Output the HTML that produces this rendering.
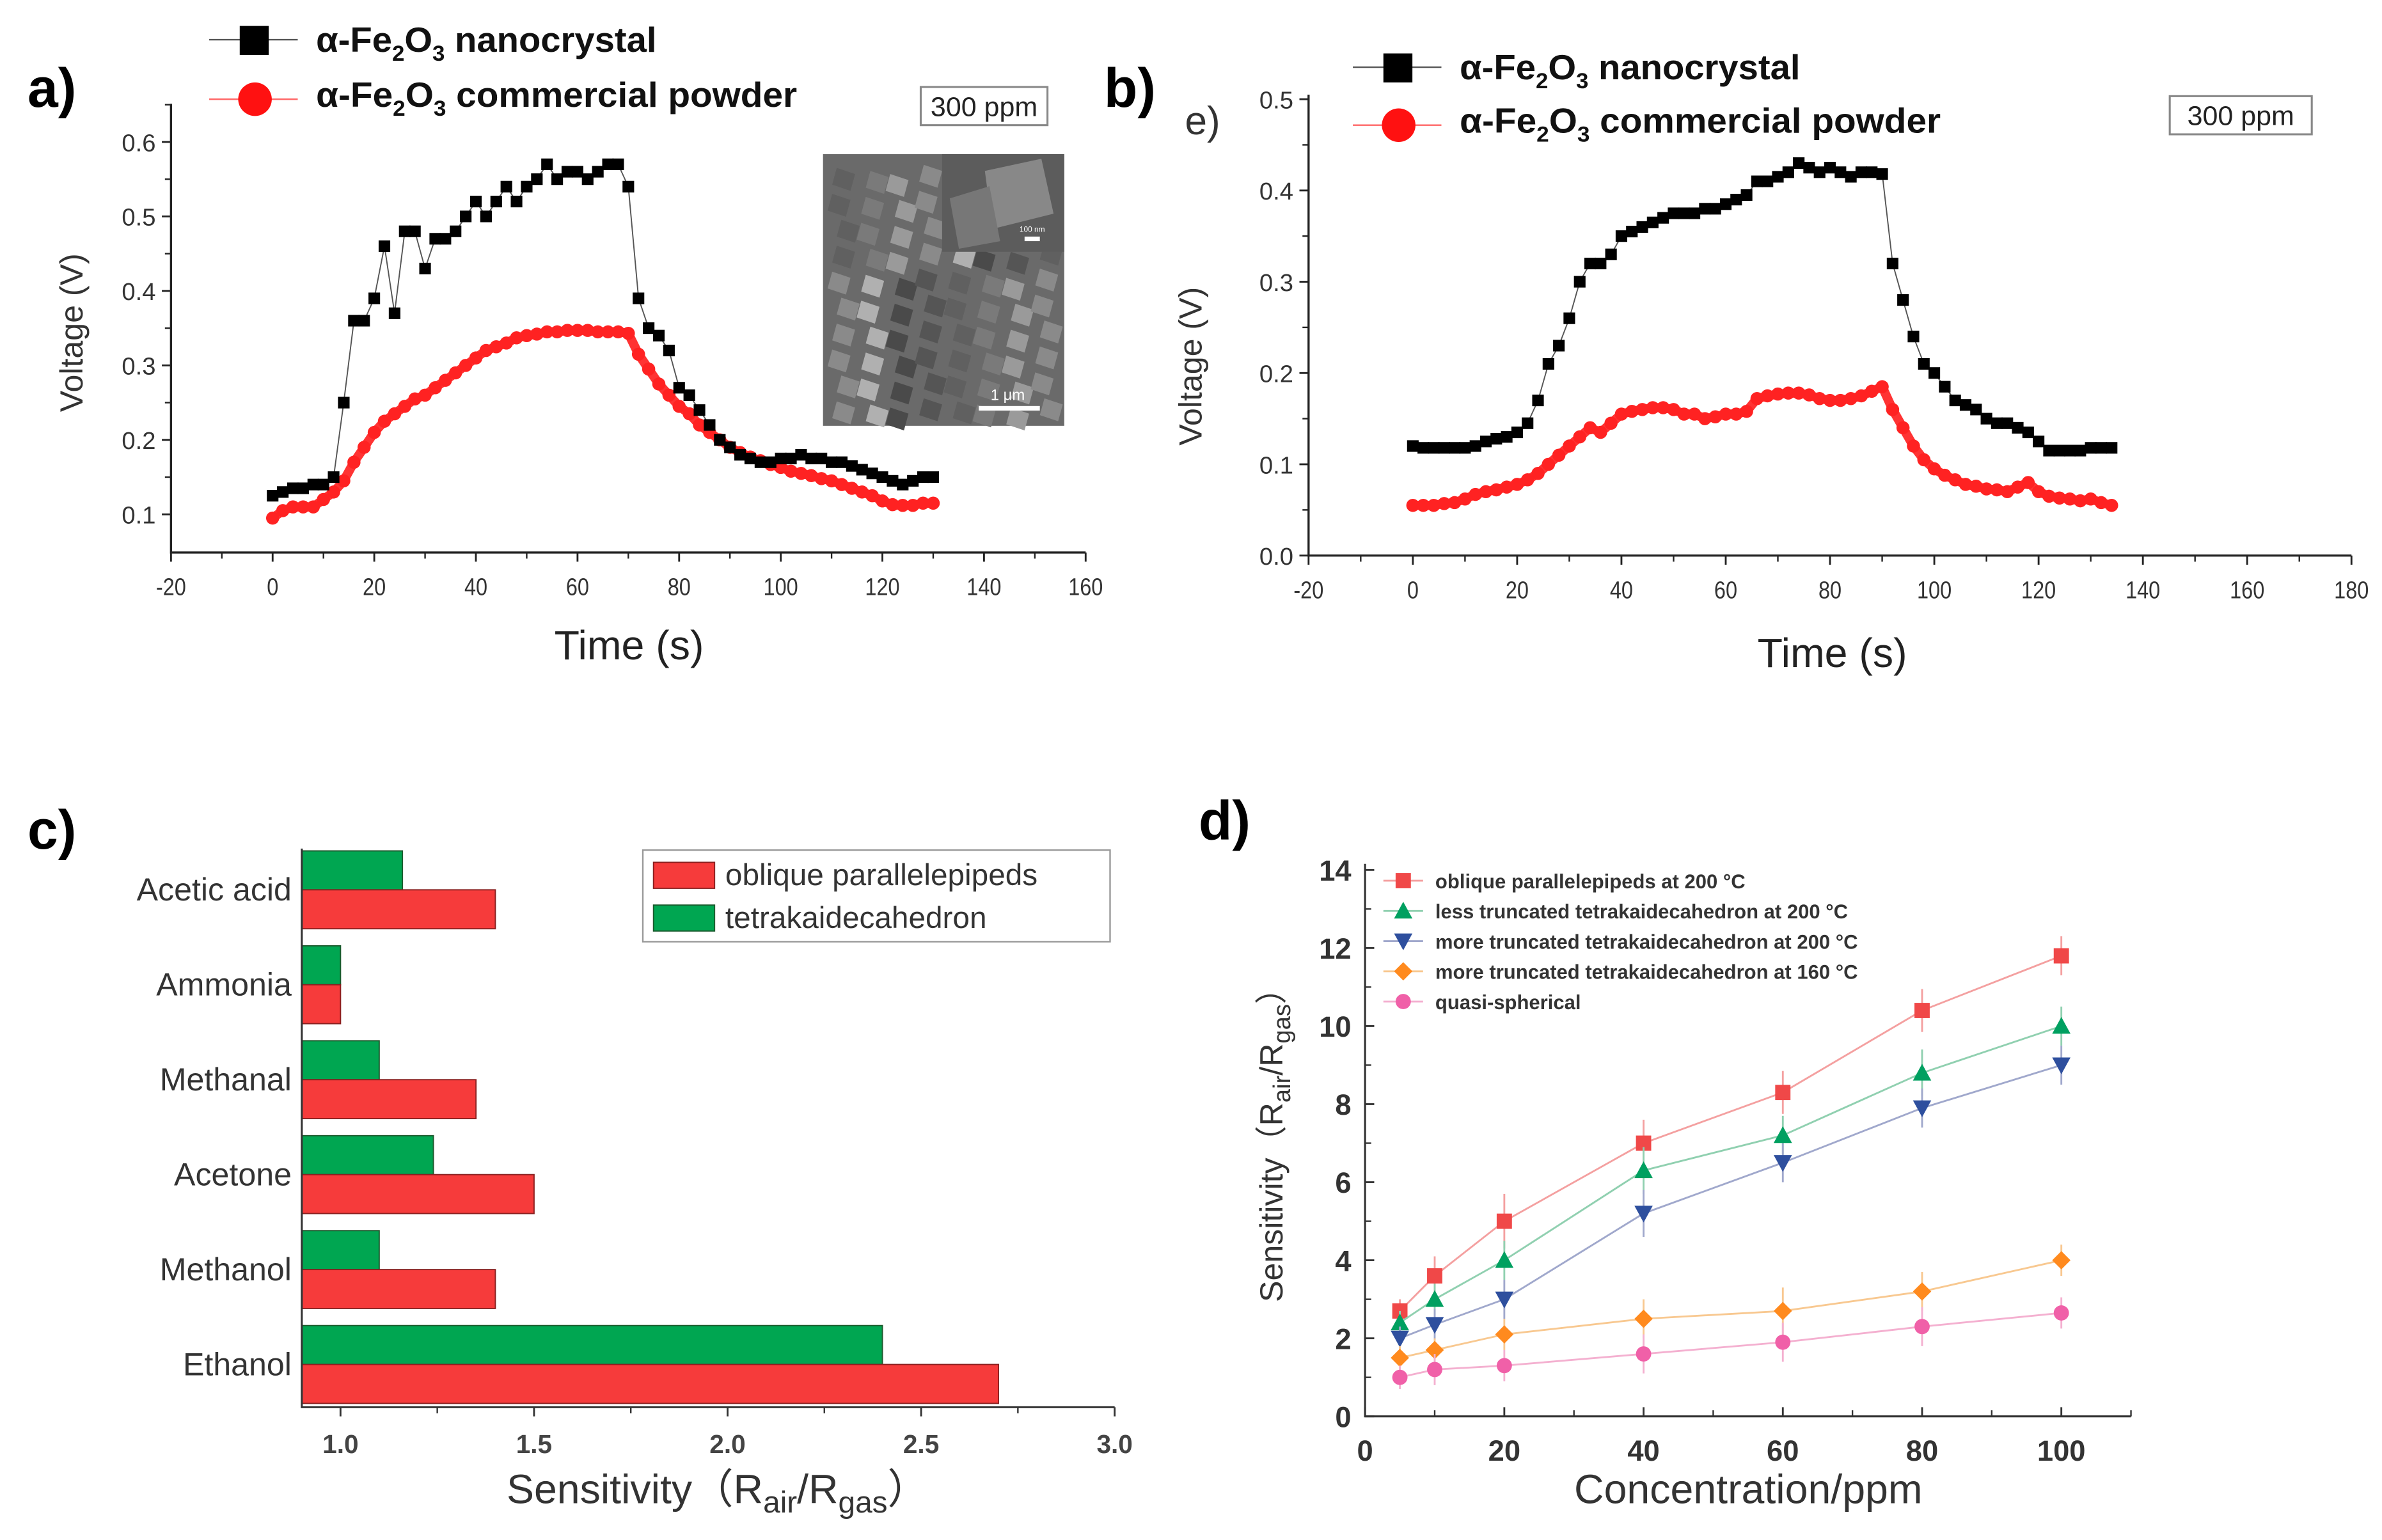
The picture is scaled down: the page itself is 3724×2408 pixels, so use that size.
<!DOCTYPE html>
<html><head><meta charset="utf-8"><style>
html,body{margin:0;padding:0;background:#fff}
svg{display:block}
text{font-family:"Liberation Sans",sans-serif}
</style></head><body>
<svg id="fig" xmlns="http://www.w3.org/2000/svg" width="3724" height="2408" viewBox="0 0 1560 1009" preserveAspectRatio="none">
<rect x="0" y="0" width="1560" height="1009" fill="#fff"/>
<g id="pa"></g>
<g id="pb"></g>
<g id="pc"></g>
<g id="pd"></g>
</svg>
<script>
// ---------- Panel a data ----------
const aTimeBlack = [0,2,4,6,8,10,12,14,16,18,20,22,24,26,28,30,32,34,36,38,40,42,44,46,48,50,52,54,56,58,60,62,64,66,68,70,72,74,76,78,80,82,84,86,88,90,92,94,96,98,100,102,104,106,108,110,112,114,116,118,120,122,124,126,128,130];
const aBlack = [0.125,0.13,0.135,0.135,0.14,0.14,0.15,0.25,0.36,0.36,0.39,0.46,0.37,0.48,0.48,0.43,0.47,0.47,0.48,0.5,0.52,0.5,0.52,0.54,0.52,0.54,0.55,0.57,0.55,0.56,0.56,0.55,0.56,0.57,0.57,0.54,0.39,0.35,0.34,0.32,0.27,0.26,0.24,0.22,0.2,0.19,0.18,0.175,0.17,0.17,0.175,0.175,0.18,0.175,0.175,0.17,0.17,0.165,0.16,0.155,0.15,0.145,0.14,0.145,0.15,0.15];
const aTimeRed = aTimeBlack;
const aRed = [0.095,0.105,0.11,0.11,0.11,0.12,0.13,0.145,0.17,0.19,0.21,0.225,0.235,0.245,0.255,0.26,0.27,0.28,0.29,0.3,0.31,0.32,0.325,0.33,0.337,0.34,0.342,0.345,0.345,0.347,0.347,0.347,0.345,0.345,0.345,0.343,0.315,0.295,0.275,0.26,0.245,0.235,0.22,0.21,0.2,0.19,0.183,0.177,0.172,0.167,0.163,0.158,0.155,0.152,0.148,0.145,0.14,0.135,0.13,0.125,0.118,0.113,0.112,0.112,0.115,0.115];
const aXTicks = [-20,0,20,40,60,80,100,120,140,160];
const aYTicks = [0.1,0.2,0.3,0.4,0.5,0.6];
// ---------- Panel b data ----------
const bTime = [0,2,4,6,8,10,12,14,16,18,20,22,24,26,28,30,32,34,36,38,40,42,44,46,48,50,52,54,56,58,60,62,64,66,68,70,72,74,76,78,80,82,84,86,88,90,92,94,96,98,100,102,104,106,108,110,112,114,116,118,120,122,124,126,128,130,132,134];
const bBlack = [0.12,0.118,0.118,0.118,0.118,0.118,0.12,0.125,0.128,0.13,0.135,0.145,0.17,0.21,0.23,0.26,0.3,0.32,0.32,0.33,0.35,0.355,0.36,0.365,0.37,0.375,0.375,0.375,0.38,0.38,0.385,0.39,0.395,0.41,0.41,0.415,0.42,0.43,0.425,0.42,0.425,0.42,0.415,0.42,0.42,0.418,0.32,0.28,0.24,0.21,0.2,0.185,0.17,0.165,0.16,0.15,0.145,0.145,0.14,0.135,0.125,0.115,0.115,0.115,0.115,0.118,0.118,0.118];
const bRed = [0.055,0.055,0.055,0.057,0.058,0.062,0.067,0.07,0.072,0.075,0.078,0.083,0.09,0.1,0.11,0.12,0.13,0.14,0.135,0.145,0.155,0.158,0.16,0.162,0.162,0.16,0.155,0.155,0.15,0.152,0.155,0.155,0.158,0.172,0.175,0.177,0.178,0.178,0.176,0.172,0.17,0.17,0.172,0.175,0.18,0.185,0.16,0.14,0.12,0.105,0.095,0.088,0.083,0.078,0.076,0.073,0.072,0.07,0.075,0.08,0.07,0.065,0.063,0.062,0.06,0.062,0.058,0.055];
const bXTicks = [-20,0,20,40,60,80,100,120,140,160,180];
const bYTicks = [0.0,0.1,0.2,0.3,0.4,0.5];
// ---------- Panel c data ----------
const cCategories = ["Acetic acid","Ammonia","Methanal","Acetone","Methanol","Ethanol"];
const cOblique = [1.4,1.0,1.35,1.5,1.4,2.7];
const cTetra = [1.16,1.0,1.1,1.24,1.1,2.4];
const cXTicks = [1.0,1.5,2.0,2.5,3.0];
// ---------- Panel d data ----------
const dConc = [5,10,20,40,60,80,100];
const dOblique200 = [2.7,3.6,5.0,7.0,8.3,10.4,11.8];
const dLessTrunc200 = [2.4,3.0,4.0,6.3,7.2,8.8,10.0];
const dMoreTrunc200 = [2.0,2.35,3.0,5.2,6.5,7.9,9.0];
const dMoreTrunc160 = [1.5,1.7,2.1,2.5,2.7,3.2,4.0];
const dQuasi = [1.0,1.2,1.3,1.6,1.9,2.3,2.65];
const dErrOblique = [0.3,0.5,0.7,0.6,0.55,0.55,0.5];
const dErrLess = [0.3,0.4,0.5,0.6,0.5,0.6,0.5];
const dErrMore200 = [0.3,0.4,0.5,0.6,0.5,0.5,0.5];
const dErrMore160 = [0.3,0.3,0.4,0.5,0.6,0.5,0.4];
const dErrQuasi = [0.3,0.4,0.4,0.5,0.5,0.5,0.4];
const dXTicks = [0,20,40,60,80,100];
const dYTicks = [0,2,4,6,8,10,12,14];

const NS="http://www.w3.org/2000/svg";
function mk(parent,tag,attrs,txt){const e=document.createElementNS(NS,tag);for(const k in attrs)e.setAttribute(k,attrs[k]);if(txt!==undefined)e.textContent=txt;parent.appendChild(e);return e;}
function fmt(v,d){return v.toFixed(d);}

function linearScale(d0,d1,r0,r1){return v=>r0+(v-d0)*(r1-r0)/(d1-d0);}

function formula(parent,x,y,size,rest,len,name){
  const t=mk(parent,'text',{x:x,y:y,'font-size':size,'font-weight':'bold',fill:'#111',textLength:len,lengthAdjust:'spacingAndGlyphs'});
  
  
  mk(t,'tspan',{},'α-Fe');
  mk(t,'tspan',{'font-size':size*0.62,dy:size*0.25},'2');
  mk(t,'tspan',{dy:-size*0.25},'O');
  mk(t,'tspan',{'font-size':size*0.62,dy:size*0.25},'3');
  mk(t,'tspan',{dy:-size*0.25},' '+rest);
  return t;
}

function voltagePanel(g,o){
  const sx=linearScale(o.xd[0],o.xd[1],o.xr[0],o.xr[1]);
  const sy=linearScale(o.yd[0],o.yd[1],o.yr[0],o.yr[1]);
  // axes
  const ax=mk(g,'path',{d:`M${o.xr[0]} ${o.top} V${o.base} H${o.xr[1]}`,fill:'none',stroke:'#222','stroke-width':1.4});
  
  
  o.xt.forEach((v,i)=>{
    const x=sx(v);
    const tk=mk(g,'line',{x1:x,y1:o.base,x2:x,y2:o.base+6,stroke:'#222','stroke-width':1.2});
    
    
    if(i<o.xt.length-1){const xm=sx(v+10);mk(g,'line',{x1:xm,y1:o.base,x2:xm,y2:o.base+4,stroke:'#222','stroke-width':1});}
    const lb=mk(g,'text',{x:x,y:o.base+28,'font-size':16,'text-anchor':'middle',fill:'#333',transform:`translate(${x} 0) scale(0.85 1) translate(${-x} 0)`},String(v));
    
    
  });
  o.yt.forEach((v,i)=>{
    const y=sy(v);
    mk(g,'line',{x1:o.xr[0],y1:y,x2:o.xr[0]-6,y2:y,stroke:'#222','stroke-width':1.2});
    const ym=sy(v+0.05); if(ym>o.top) mk(g,'line',{x1:o.xr[0],y1:ym,x2:o.xr[0]-4,y2:ym,stroke:'#222','stroke-width':1});
    const lb=mk(g,'text',{x:o.xr[0]-10,y:y+6,'font-size':16,'text-anchor':'end',fill:'#333'},fmt(v,1));
    
    
  });
  const yt=mk(g,'text',{x:0,y:0,'font-size':21,'text-anchor':'middle',fill:'#333',transform:`translate(${o.ytx} ${o.yty}) rotate(-90)`},'Voltage (V)');
  
  
  const xt=mk(g,'text',{x:o.xtx,y:o.xty,'font-size':27,'text-anchor':'middle',fill:'#222'},'Time (s)');
  
  
  // black series
  const pb=o.tb.map((t,i)=>`${sx(t).toFixed(1)},${sy(o.vb[i]).toFixed(1)}`).join(' ');
  const lnb=mk(g,'polyline',{points:pb,fill:'none',stroke:'#555','stroke-width':0.8});
  
  
  const pr=o.tr.map((t,i)=>`${sx(t).toFixed(1)},${sy(o.vr[i]).toFixed(1)}`).join(' ');
  const lnr=mk(g,'polyline',{points:pr,fill:'none',stroke:'#f33','stroke-width':6,'stroke-linejoin':'round'});
  
  
  o.tr.forEach((t,i)=>{
    const c=mk(g,'circle',{cx:sx(t),cy:sy(o.vr[i]),r:4.3,fill:'#f22'});
    
    
  });
  o.tb.forEach((t,i)=>{
    const s=mk(g,'rect',{x:sx(t)-3.8,y:sy(o.vb[i])-3.8,width:7.6,height:7.6,fill:'#000'});
    
    
  });
  // legend
  const lg=mk(g,'g',{});
  
  
  mk(lg,'line',{x1:o.lx,y1:o.ly1,x2:o.lx+58,y2:o.ly1,stroke:'#555','stroke-width':1});
  mk(lg,'rect',{x:o.lx+20,y:o.ly1-9,width:19,height:19,fill:'#000'});
  mk(lg,'line',{x1:o.lx,y1:o.ly2,x2:o.lx+58,y2:o.ly2,stroke:'#f66','stroke-width':1});
  mk(lg,'circle',{cx:o.lx+30,cy:o.ly2,r:11,fill:'#f11'});
  formula(lg,o.lx+70,o.ly1+8,23,'nanocrystal',223,'legend-entry-nanocrystal');
  formula(lg,o.lx+70,o.ly2+5,23,'commercial powder',315,'legend-entry-commercial-powder');
  // 300 ppm box
  const bx=mk(g,'g',{});
  
  
  mk(bx,'rect',{x:o.bx,y:o.by,width:o.bw,height:25,fill:'#fff',stroke:'#888','stroke-width':1.3});
  mk(bx,'text',{x:o.bx+o.bw/2,y:o.by+19,'font-size':18,'text-anchor':'middle',fill:'#222'},'300 ppm');
}

// Panel a
const pa=document.getElementById('pa');
const la=mk(pa,'text',{x:18,y:70,'font-size':36,'font-weight':'bold',fill:'#000'},'a)');


voltagePanel(pa,{xd:[-20,160],xr:[112,711],yd:[0.1,0.6],yr:[337,93],top:68,base:362,xt:aXTicks,yt:aYTicks,
  ytx:54,yty:218,xtx:412,xty:432,tb:aTimeBlack,vb:aBlack,tr:aTimeRed,vr:aRed,lx:137,ly1:26,ly2:65,bx:603,by:57,bw:83});
// SEM inset
(function(){
  const g=mk(pa,'g',{});
  
  
  mk(g,'rect',{x:539,y:101,width:158,height:178,fill:'#6a6a6a'});
  const shades=['#8a8a8a','#555','#9a9a9a','#4a4a4a','#7a7a7a','#b0b0b0','#606060'];
  let k=0;
  for(let yy=108;yy<275;yy+=17){for(let xx=545;xx<692;xx+=19){
    const c=shades[(k*5+ (yy>>3))%shades.length];k++;
    const dx=(k%3)*3, dy=(k%4)*2;
    mk(g,'polygon',{points:`${xx+dx},${yy+dy} ${xx+dx+12},${yy+dy+4} ${xx+dx+9},${yy+dy+15} ${xx+dx-3},${yy+dy+11}`,fill:c});
  }}
  mk(g,'rect',{x:617,y:101,width:80,height:64,fill:'#5c5c5c'});
  mk(g,'polygon',{points:'645,112 682,104 690,140 650,150',fill:'#888'});
  mk(g,'polygon',{points:'622,130 648,122 655,158 628,163',fill:'#777'});
  mk(g,'text',{x:676,y:152,'font-size':5,'text-anchor':'middle',fill:'#fff'},'100 nm');
  mk(g,'rect',{x:671,y:155,width:10,height:3,fill:'#fff'});
  mk(g,'text',{x:660,y:262,'font-size':10,'text-anchor':'middle',fill:'#fff'},'1 μm');
  mk(g,'rect',{x:641,y:266,width:40,height:3,fill:'#fff'});
})();

// Panel b
const pbG=document.getElementById('pb');
const lb=mk(pbG,'text',{x:723,y:70,'font-size':36,'font-weight':'bold',fill:'#000'},'b)');


const le=mk(pbG,'text',{x:776,y:88,'font-size':26,fill:'#333'},'e)');


voltagePanel(pbG,{xd:[-20,180],xr:[857,1540],yd:[0,0.5],yr:[364,65],top:62,base:364,xt:bXTicks,yt:bYTicks,
  ytx:787,yty:240,xtx:1200,xty:437,tb:bTime,vb:bBlack,tr:bTime,vr:bRed,lx:886,ly1:44,ly2:82,bx:1421,by:63,bw:93});

// Panel c
(function(){
  const g=document.getElementById('pc');
  const l=mk(g,'text',{x:18,y:556,'font-size':36,'font-weight':'bold',fill:'#000'},'c)');
  
  
  const sx=linearScale(1.0,3.0,223,730);
  const x0=sx(0.9), base=922, top=556;
  const center=i=>583+i*62.2;
  const bh=25.5;
  cCategories.forEach((c,i)=>{
    const cy=center(i);
    const gb=mk(g,'rect',{x:x0,y:cy-bh,width:sx(cTetra[i])-x0,height:bh,fill:'#00a651',stroke:'#1d5a2e','stroke-width':0.8});
    
    
    const rb=mk(g,'rect',{x:x0,y:cy,width:sx(cOblique[i])-x0,height:bh,fill:'#f63b3b',stroke:'#8a2020','stroke-width':0.8});
    
    
    const t=mk(g,'text',{x:191,y:cy+7,'font-size':21,'text-anchor':'end',fill:'#333'},c);
    
    
  });
  const ax=mk(g,'path',{d:`M${x0} ${top} V${base} H${sx(3.0)}`,fill:'none',stroke:'#333','stroke-width':1.3});
  
  
  cXTicks.forEach((v,i)=>{
    const x=sx(v);
    mk(g,'line',{x1:x,y1:base,x2:x,y2:base+6,stroke:'#333','stroke-width':1.2});
    if(i<cXTicks.length-1){const xm=sx(v+0.25);mk(g,'line',{x1:xm,y1:base,x2:xm,y2:base+4,stroke:'#333','stroke-width':1});}
    const t=mk(g,'text',{x:x,y:base+30,'font-size':17,'font-weight':'bold','text-anchor':'middle',fill:'#444'},fmt(v,1));
    
    
  });
  const xt=mk(g,'text',{x:470,y:985,'font-size':27,'text-anchor':'middle',fill:'#333'});
  
  
  mk(xt,'tspan',{},'Sensitivity（R');
  mk(xt,'tspan',{'font-size':20,dy:6},'air');
  mk(xt,'tspan',{dy:-6},'/R');
  mk(xt,'tspan',{'font-size':20,dy:6},'gas');
  mk(xt,'tspan',{dy:-6},'）');
  const lg=mk(g,'g',{});
  
  
  mk(lg,'rect',{x:421,y:557,width:306,height:60,fill:'#fff',stroke:'#999','stroke-width':1});
  mk(lg,'rect',{x:428,y:565,width:40,height:17,fill:'#f63b3b',stroke:'#8a2020','stroke-width':0.8});
  mk(lg,'text',{x:475,y:580,'font-size':20,fill:'#333'},'oblique parallelepipeds');
  mk(lg,'rect',{x:428,y:593,width:40,height:17,fill:'#00a651',stroke:'#1d5a2e','stroke-width':0.8});
  mk(lg,'text',{x:475,y:608,'font-size':20,fill:'#333'},'tetrakaidecahedron');
})();

// Panel d
(function(){
  const g=document.getElementById('pd');
  const l=mk(g,'text',{x:785,y:550,'font-size':36,'font-weight':'bold',fill:'#000'},'d)');
  
  
  const sx=linearScale(0,100,894,1350);
  const sy=linearScale(0,14,928,570);
  const ax=mk(g,'path',{d:`M${sx(0)} 566 V928 H${sx(110)}`,fill:'none',stroke:'#333','stroke-width':1.3});
  
  
  dXTicks.forEach(v=>{
    const x=sx(v);
    mk(g,'line',{x1:x,y1:928,x2:x,y2:922,stroke:'#333','stroke-width':1.2});
    mk(g,'line',{x1:sx(v+10),y1:928,x2:sx(v+10),y2:924,stroke:'#333','stroke-width':1});
    const t=mk(g,'text',{x:x,y:957,'font-size':19,'font-weight':'bold','text-anchor':'middle',fill:'#333'},String(v));
    
    
  });
  dYTicks.forEach((v,i)=>{
    const y=sy(v);
    mk(g,'line',{x1:sx(0),y1:y,x2:sx(0)+6,y2:y,stroke:'#333','stroke-width':1.2});
    if(i<dYTicks.length-1) mk(g,'line',{x1:sx(0),y1:sy(v+1),x2:sx(0)+4,y2:sy(v+1),stroke:'#333','stroke-width':1});
    const t=mk(g,'text',{x:sx(0)-9,y:y+7,'font-size':19,'font-weight':'bold','text-anchor':'end',fill:'#333'},String(v));
    
    
  });
  const yt=mk(g,'text',{x:0,y:0,'font-size':21,'text-anchor':'middle',fill:'#333',transform:'translate(840 745) rotate(-90)'});
  
  
  mk(yt,'tspan',{},'Sensitivity（R');
  mk(yt,'tspan',{'font-size':16,dy:5},'air');
  mk(yt,'tspan',{dy:-5},'/R');
  mk(yt,'tspan',{'font-size':16,dy:5},'gas');
  mk(yt,'tspan',{dy:-5},'）');
  const xt=mk(g,'text',{x:1145,y:985,'font-size':27,'text-anchor':'middle',fill:'#333'},'Concentration/ppm');
  
  
  function marker(p,shape,x,y,col){
    if(shape==='sq') return mk(p,'rect',{x:x-5,y:y-5,width:10,height:10,fill:col});
    if(shape==='up') return mk(p,'polygon',{points:`${x},${y-6} ${x+6},${y+5} ${x-6},${y+5}`,fill:col});
    if(shape==='dn') return mk(p,'polygon',{points:`${x-6},${y-5} ${x+6},${y-5} ${x},${y+6}`,fill:col});
    if(shape==='di') return mk(p,'polygon',{points:`${x},${y-6} ${x+6},${y} ${x},${y+6} ${x-6},${y}`,fill:col});
    return mk(p,'circle',{cx:x,cy:y,r:5,fill:col});
  }
  const series=[
    {name:'oblique parallelepipeds at 200 °C',v:dOblique200,e:dErrOblique,c:'#f04848',lc:'#f4a0a0',s:'sq',id:'oblique-200'},
    {name:'less truncated tetrakaidecahedron at 200 °C',v:dLessTrunc200,e:dErrLess,c:'#00a060',lc:'#90d0b0',s:'up',id:'less-truncated-200'},
    {name:'more truncated tetrakaidecahedron at 200 °C',v:dMoreTrunc200,e:dErrMore200,c:'#2e4f9e',lc:'#a0a8cc',s:'dn',id:'more-truncated-200'},
    {name:'more truncated tetrakaidecahedron at 160 °C',v:dMoreTrunc160,e:dErrMore160,c:'#ff8a1e',lc:'#f8c890',s:'di',id:'more-truncated-160'},
    {name:'quasi-spherical',v:dQuasi,e:dErrQuasi,c:'#f060a8',lc:'#f4b0d0',s:'ci',id:'quasi-spherical'}
  ];
  series.forEach((s,si)=>{
    const sg=mk(g,'g',{});
    
    
    mk(sg,'polyline',{points:dConc.map((c,i)=>`${sx(c)},${sy(s.v[i])}`).join(' '),fill:'none',stroke:s.lc,'stroke-width':1.2});
    dConc.forEach((c,i)=>{
      mk(sg,'line',{x1:sx(c),y1:sy(s.v[i]-s.e[i]),x2:sx(c),y2:sy(s.v[i]+s.e[i]),stroke:s.lc,'stroke-width':1.2});
      const m=marker(sg,s.s,sx(c),sy(s.v[i]),s.c);
      
      
    });
    const ly=577+si*19.8;
    const le=mk(g,'g',{});
    
    
    mk(le,'line',{x1:906,y1:ly,x2:932,y2:ly,stroke:s.lc,'stroke-width':1.2});
    marker(le,s.s,919,ly,s.c);
    mk(le,'text',{x:940,y:ly+5,'font-size':13,'font-weight':'bold',fill:'#333'},s.name);
  });
})();
</script>
</body></html>
